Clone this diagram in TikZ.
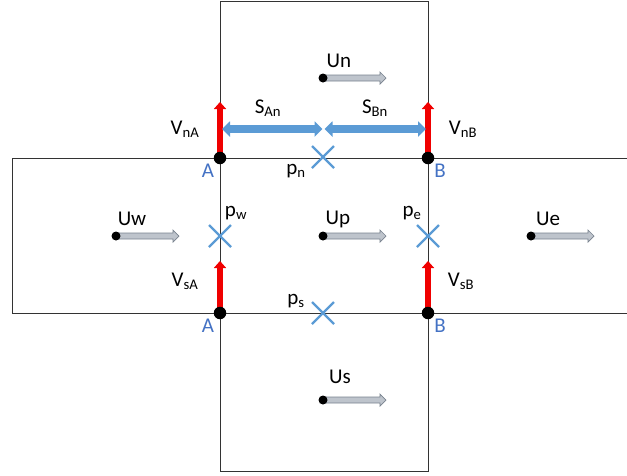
\documentclass[tikz,border=0pt]{standalone}
\usepackage{fontspec}
\setmainfont{Carlito}
\usetikzlibrary{arrows.meta}
\definecolor{xblue}{RGB}{91,155,213}
\definecolor{labblue}{RGB}{68,114,196}
\definecolor{ufill}{RGB}{190,196,204}
\definecolor{uline}{RGB}{120,130,142}
\tikzset{
  cell/.style={draw=black!80, line width=0.9pt},
  redarrow/.style={draw={rgb,255:red,240;green,0;blue,0}, line width=6.5pt, -{Triangle[width=12pt,length=7pt]}},
  bluearrow/.style={draw=xblue, line width=8.5pt, {Triangle[width=15pt,length=8pt]}-{Triangle[width=15pt,length=8pt]}},
  dotnode/.style={circle, fill=black, inner sep=0pt, minimum size=12.5pt},
  sdot/.style={circle, fill=black, inner sep=0pt, minimum size=9pt},
  crossmark/.style={draw=xblue, line width=2.2pt},
  lab/.style={font=\fontsize{21}{24}\selectfont, inner sep=0pt},
  ptlab/.style={font=\fontsize{21}{24}\selectfont, inner sep=0pt, text=labblue},
}
\newcommand{\uarrow}[3]{%
  \fill[ufill, draw=uline, line width=0.7pt] (#2,#3-3) -- (#2+57,#3-3) -- (#2+57,#3-6) -- (#2+63,#3) -- (#2+57,#3+6) -- (#2+57,#3+3) -- (#2,#3+3) -- cycle;
  \node[sdot] (#1) at (#2,#3) {};
}
\newcommand{\xmark}[3]{%
  \coordinate (#1) at (#2,#3);
  \draw[crossmark] (#2-11,#3-11) -- (#2+11,#3+11) (#2-11,#3+11) -- (#2+11,#3-11);
}
\begin{document}
\begin{tikzpicture}[x=1pt,y=-1pt]
\useasboundingbox (0,0) rectangle (627,475);
% grid
\coordinate (TL) at (220,1);
\coordinate (TR) at (428,1);
\coordinate (BL) at (220,471);
\coordinate (BR) at (428,471);
\coordinate (WL) at (12,158);
\coordinate (WLs) at (12,313);
\coordinate (ER) at (627,158);
\coordinate (ERs) at (627,313);
\draw[cell] (TL) -- (TR) -- (BR) -- (BL) -- cycle;
\draw[cell] (ER) -- (WL) -- (WLs) -- (ERs);
% corner points
\coordinate (An) at (220,158);
\coordinate (Bn) at (428,158);
\coordinate (As) at (220,313);
\coordinate (Bs) at (428,313);
\coordinate (Ant) at (220,102);
\coordinate (Bnt) at (428,102);
\coordinate (Ast) at (220,261);
\coordinate (Bst) at (428,261);
\draw[redarrow] (An) -- (Ant);
\draw[redarrow] (Bn) -- (Bnt);
\draw[redarrow] (As) -- (Ast);
\draw[redarrow] (Bs) -- (Bst);
% blue S arrows
\coordinate (S1) at (222,129);
\coordinate (Sm1) at (322.5,129);
\coordinate (Sm2) at (324.5,129);
\coordinate (S2) at (426,129);
\draw[bluearrow] (S1) -- (Sm1);
\draw[bluearrow] (Sm2) -- (S2);
\node[dotnode] (dAn) at (An) {};
\node[dotnode] (dBn) at (Bn) {};
\node[dotnode] (dAs) at (As) {};
\node[dotnode] (dBs) at (Bs) {};
% crosses
\xmark{pn}{323}{157}
\xmark{pw}{220}{236}
\xmark{pe}{428}{236}
\xmark{ps}{323}{313}
% U arrows
\uarrow{un}{323}{78}
\uarrow{uw}{116}{236}
\uarrow{up}{323}{236}
\uarrow{ue}{531}{236}
\uarrow{us}{323}{400}
% labels
\node[lab] (lUn) at (339,61) {Un};
\node[lab] (lUw) at (132,219) {Uw};
\node[lab] (lUp) at (338,219) {Up};
\node[lab] (lUe) at (548,219) {Ue};
\node[lab] (lUs) at (340,377) {Us};
\node[lab] (lVnA) at (185,129) {V\textsubscript{nA}};
\node[lab] (lVnB) at (463,129) {V\textsubscript{nB}};
\node[lab] (lVsA) at (185,281) {V\textsubscript{sA}};
\node[lab] (lVsB) at (461,281) {V\textsubscript{sB}};
\node[lab] (lSAn) at (268,108) {S\textsubscript{An}};
\node[lab] (lSBn) at (375,108) {S\textsubscript{Bn}};
\node[lab] (lpn) at (296,171) {p\textsubscript{n}};
\node[lab] (lpw) at (236,213) {p\textsubscript{w}};
\node[lab] (lpe) at (412,213) {p\textsubscript{e}};
\node[lab] (lps) at (296,301) {p\textsubscript{s}};
\node[ptlab] (lA1) at (208,171) {A};
\node[ptlab] (lB1) at (440,171) {B};
\node[ptlab] (lA2) at (208,326) {A};
\node[ptlab] (lB2) at (440,326) {B};
\end{tikzpicture}
\end{document}
